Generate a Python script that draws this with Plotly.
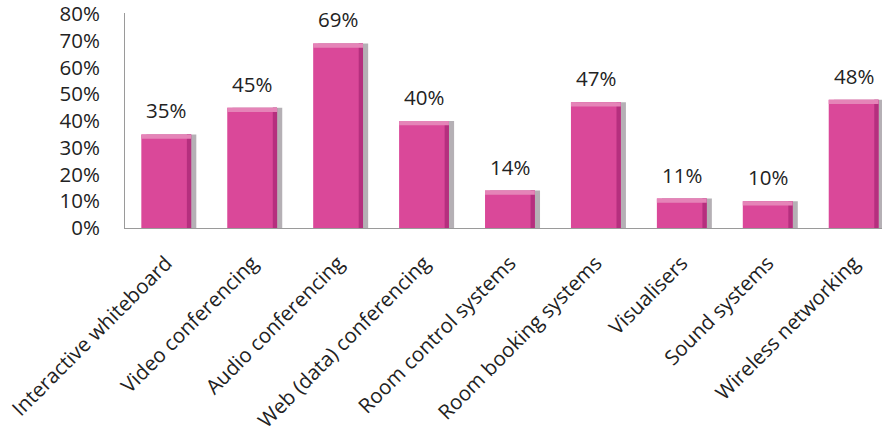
import plotly.graph_objects as go

categories = ["Interactive whiteboard", "Video conferencing", "Audio conferencing",
              "Web (data) conferencing", "Room control systems", "Room booking systems",
              "Visualisers", "Sound systems", "Wireless networking"]
values = [35, 45, 69, 40, 14, 47, 11, 10, 48]
labels = ["35%", "45%", "69%", "40%", "14%", "47%", "11%", "10%", "48%"]
y_ticks = [0, 10, 20, 30, 40, 50, 60, 70, 80]
y_tick_labels = ["0%", "10%", "20%", "30%", "40%", "50%", "60%", "70%", "80%"]

FONT = "Open Sans"
FS = 20.5
W = 0.58
band = 1.6

fig = go.Figure()
# shadow
fig.add_trace(go.Bar(x=categories, y=values, width=W, offset=-W / 2 + 0.06,
                     marker=dict(color="rgba(90,80,90,0.45)", line=dict(width=0)),
                     hoverinfo="skip", showlegend=False))
# main bar
fig.add_trace(go.Bar(x=categories, y=values, width=W, offset=-W / 2,
                     marker=dict(color="#DA4899", line=dict(width=0)),
                     showlegend=False))
# darker right edge
fig.add_trace(go.Bar(x=categories, y=values, width=0.05, offset=W / 2 - 0.05,
                     marker=dict(color="#B52F7E", line=dict(width=0)),
                     hoverinfo="skip", showlegend=False))
# lighter top band
fig.add_trace(go.Bar(x=categories, y=[band] * len(values),
                     base=[v - band for v in values], width=W, offset=-W / 2,
                     marker=dict(color="#E584B8", line=dict(width=0)),
                     hoverinfo="skip", showlegend=False))

for c, v, t in zip(categories, values, labels):
    fig.add_annotation(x=c, y=v, text=t, showarrow=False, yanchor="bottom",
                       yshift=8, font=dict(family=FONT, size=FS, color="#222222"))

fig.update_layout(
    width=882, height=435,
    margin=dict(l=125, r=0, t=13, b=207),
    barmode="overlay",
    plot_bgcolor="white", paper_bgcolor="white",
    font=dict(family=FONT, size=FS, color="#222222"),
)
fig.update_xaxes(range=[-0.48, 8.33], tickangle=-45, showgrid=False,
                 showline=True, linecolor="#9a9a9a", linewidth=1,
                 ticks="", ticklabelstandoff=14, ticklabeloverflow="allow",
                 tickfont=dict(family=FONT, size=FS, color="#222222"))
fig.update_yaxes(range=[0, 80.4], tickvals=y_ticks, ticktext=y_tick_labels,
                 showgrid=False, zeroline=False, showline=True,
                 linecolor="#9a9a9a", linewidth=1, ticks="",
                 ticklabelstandoff=20, ticklabeloverflow="allow",
                 tickfont=dict(family=FONT, size=FS, color="#222222"))

fig.write_html("out.html")
